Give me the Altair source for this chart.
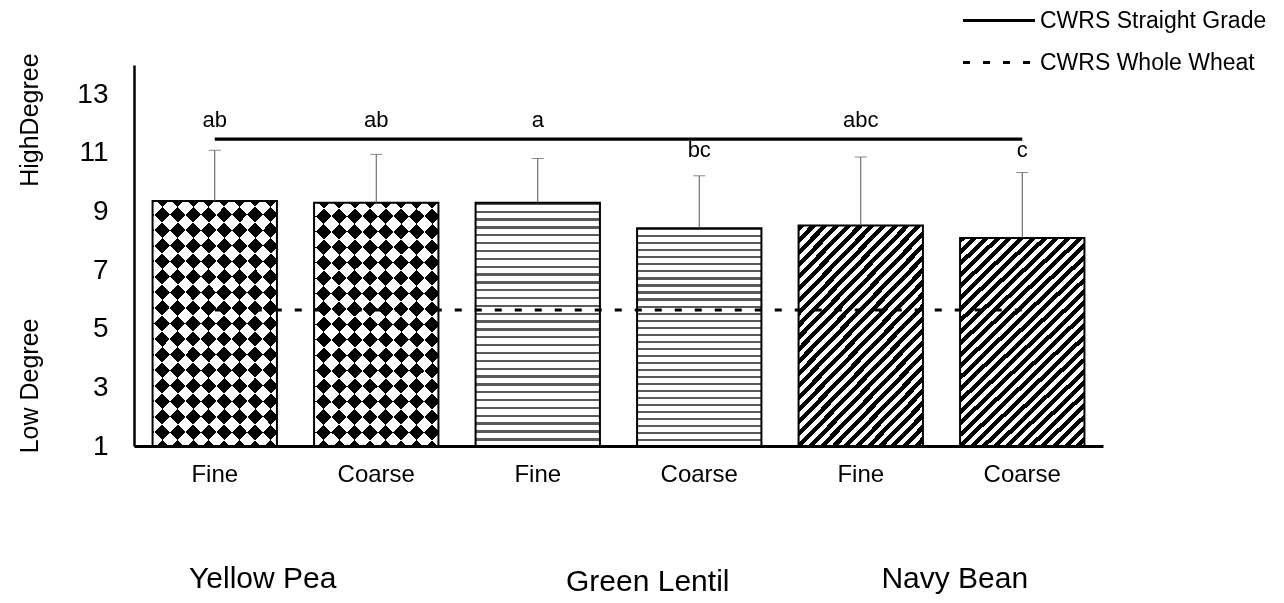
import math
import altair as alt
import pandas as pd

# ---------------- data ----------------
pulses = ["Yellow Pea", "Yellow Pea", "Green Lentil", "Green Lentil", "Navy Bean", "Navy Bean"]
grinds = ["Fine", "Coarse", "Fine", "Coarse", "Fine", "Coarse"]
means = [9.36, 9.30, 9.30, 8.43, 8.52, 8.10]
upper = [11.09, 10.95, 10.81, 10.22, 10.86, 10.33]
letters = ["ab", "ab", "a", "bc", "abc", "c"]
letter_y = [11.88, 11.88, 11.88, 10.86, 11.88, 10.86]

ref_names = ["CWRS Straight Grade", "CWRS Whole Wheat"]
ref_values = [11.47, 5.64]

y_ticks = [1, 3, 5, 7, 9, 11, 13]
y_side_labels = ["HighDegree", "Low Degree"]
y_side_pos = [12.12, 3.05]
group_names = ["Yellow Pea", "Green Lentil", "Navy Bean"]

keys = [f"{p}|{g}" for p, g in zip(pulses, grinds)]
bars = pd.DataFrame({"key": keys, "pulse": pulses, "grind": grinds,
                     "mean": means, "upper": upper,
                     "letter": letters, "ly": letter_y})
lines = pd.DataFrame({
    "key": [keys[0], keys[-1], keys[0], keys[-1]],
    "series": [ref_names[0], ref_names[0], ref_names[1], ref_names[1]],
    "value": [ref_values[0], ref_values[0], ref_values[1], ref_values[1]],
})
side = pd.DataFrame({"label": y_side_labels, "pos": y_side_pos})

FONT = "Liberation Sans"

# ---------------- pattern fills (gradients) ----------------
def make_stops(n, duty, ca, cb):
    stops = []
    k = 0
    while k < n:
        a = k / n
        b = min((k + duty) / n, 1.0)
        e = min((k + 1) / n, 1.0)
        stops += [{"offset": round(a, 5), "color": ca}, {"offset": round(b, 5), "color": ca}]
        if b < 1.0:
            stops += [{"offset": round(b, 5), "color": cb}, {"offset": round(e, 5), "color": cb}]
        k += 1
    return stops


def diag(W, H, period, duty, ca, cb, slash=True):
    c = (W + H) / (W * W + H * H)
    n = ((W + H) / math.sqrt(2)) / period
    g = {"gradient": "linear", "stops": make_stops(n, duty, ca, cb)}
    if slash:
        g.update({"x1": 0, "y1": 0, "x2": round(c * W, 5), "y2": round(c * H, 5)})
    else:
        g.update({"x1": 0, "y1": 1, "x2": round(c * W, 5), "y2": round(1 - c * H, 5)})
    return g


grad_yp1 = diag(124.4, 244, 21.9, 0.5, "#000000", "#ffffff", True)
grad_yp2 = diag(124.4, 244, 21.9, 0.5, "#000000", "#ffffff", False)
grad_nb = diag(124.4, 214, 8.3, 0.52, "#000000", "#ffffff", True)
grad_gl = {"gradient": "linear", "x1": 0, "y1": 0, "x2": 0, "y2": 1,
           "stops": make_stops(31, 0.3, "#5a5a5a", "#ffffff")}

# ---------------- encodings ----------------
X = alt.X("key:N", sort=keys,
          scale=alt.Scale(paddingInner=0.23, paddingOuter=0.115),
          axis=alt.Axis(title=None, labelExpr="split(datum.value, '|')[1]",
                        labelAngle=0, ticks=False, labelPadding=16,
                        labelFontSize=24, labelFont=FONT, labelColor="black",
                        domainColor="black", domainWidth=3, grid=False))
YSCALE = alt.Scale(domain=[1, 14], nice=False, zero=False)
YAXIS = alt.Axis(title=None, values=y_ticks, ticks=False, labelPadding=26,
                 labelFontSize=28, labelFont=FONT, labelColor="black",
                 domainColor="black", domainWidth=2.5, grid=False)


def Y(field):
    return alt.Y(field, scale=YSCALE, axis=YAXIS)


base = alt.Chart(bars)

yp1 = base.transform_filter(alt.datum.pulse == "Yellow Pea").mark_bar(
    fill=grad_yp1, strokeWidth=0).encode(x=X, y=Y("mean:Q"), y2=alt.datum(1))
yp2 = base.transform_filter(alt.datum.pulse == "Yellow Pea").mark_bar(
    fill=grad_yp2, strokeWidth=0, blend="difference").encode(x=X, y=Y("mean:Q"), y2=alt.datum(1))
gl = base.transform_filter(alt.datum.pulse == "Green Lentil").mark_bar(
    fill=grad_gl, strokeWidth=0).encode(x=X, y=Y("mean:Q"), y2=alt.datum(1))
nb = base.transform_filter(alt.datum.pulse == "Navy Bean").mark_bar(
    fill=grad_nb, strokeWidth=0).encode(x=X, y=Y("mean:Q"), y2=alt.datum(1))
outline = base.mark_bar(fillOpacity=0, stroke="black", strokeWidth=2).encode(
    x=X, y=Y("mean:Q"), y2=alt.datum(1))

err = base.mark_rule(color="#555555", strokeWidth=1).encode(
    x=X, y=Y("mean:Q"), y2="upper:Q")
cap = base.mark_tick(color="#555555", size=12, thickness=1).encode(
    x=X, y=Y("upper:Q"))


def legend_at(ly):
    return alt.Legend(title=None, orient="none", legendX=827.5, legendY=ly,
                      symbolType="stroke", symbolSize=5184, symbolStrokeWidth=3,
                      symbolStrokeColor="black", labelOffset=3.5,
                      labelFontSize=23, labelFont=FONT, labelColor="black",
                      labelLimit=400, padding=0)


dash_ranges = [[1, 0], [7, 13]]
legend_y = [-82, -40]
line_layers = []
for name, dash, ly in zip(ref_names, dash_ranges, legend_y):
    line_layers.append(
        alt.Chart(lines).transform_filter(alt.datum.series == name)
        .mark_line(color="black", strokeWidth=3.2, strokeCap="butt").encode(
            x=X, y=Y("value:Q"),
            strokeDash=alt.StrokeDash("series:N",
                                      scale=alt.Scale(domain=[name], range=[dash]),
                                      legend=legend_at(ly))))

letter_text = base.mark_text(fontSize=22, font=FONT, baseline="alphabetic",
                             align="center", color="black").encode(
    x=X, y=Y("ly:Q"), text="letter:N")

side_text = alt.Chart(side).mark_text(fontSize=25, font=FONT, angle=270,
                                      align="center", baseline="middle", color="black").encode(
    x=alt.value(-104), y=Y("pos:Q"), text="label:N")

group_layers = []
group_anchor = [keys[0], keys[2], keys[4]]
group_dx = [48, 110, 94]
group_y = [514, 517, 514]
for name, anchor, dx, gy in zip(group_names, group_anchor, group_dx, group_y):
    gdf = pd.DataFrame({"key": [anchor], "name": [name]})
    group_layers.append(
        alt.Chart(gdf).mark_text(fontSize=30, font=FONT, dx=dx, align="center",
                                 baseline="middle", color="black").encode(
            x=X, y=alt.value(gy), text="name:N"))

chart = alt.layer(
    yp1, yp2, gl, nb, outline, err, cap, *line_layers, letter_text, side_text, *group_layers
).resolve_scale(strokeDash="independent").resolve_legend(strokeDash="independent").properties(
    width=969, height=381,
    autosize="none",
    padding={"left": 126, "top": 57, "right": 170, "bottom": 156},
    background="white",
).configure(font=FONT).configure_view(strokeWidth=0, stroke=None)

chart.save("out.html", embed_options={"renderer": "svg", "actions": False})
